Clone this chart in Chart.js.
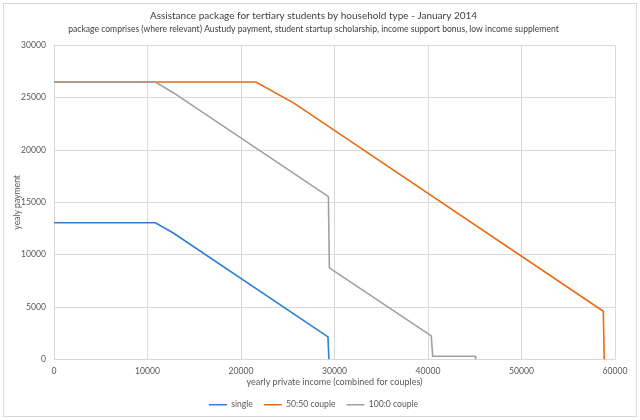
<!DOCTYPE html>
<html>
<head>
<meta charset="utf-8">
<script src="https://cdn.jsdelivr.net/npm/chart.js@4/dist/chart.umd.min.js"></script>
<style>
  html, body { margin: 0; padding: 0; background: #fff; }
  #wrap { position: absolute; left: 0; top: 0; width: 640px; height: 420px; }
  #frame { position: absolute; left: 3px; top: 3px; width: 632px; height: 412px; border: 1px solid #d9d9d9; pointer-events: none; }
</style>
</head>
<body>
<div id="wrap"><canvas id="c" width="640" height="420"></canvas></div>
<div id="frame"></div>
<script>
const titleText = "Assistance package for tertiary students by household type - January 2014";
const subtitleText = "package comprises (where relevant) Austudy payment, student startup scholarship, income support bonus, low income supplement";
const seriesNames = ["single", "50:50 couple", "100:0 couple"];

const singleIncome = [0, 10850, 12800, 29300, 29400];
const singlePay    = [13050, 13050, 12050, 2150, 0];

const fiftyIncome = [0, 21600, 25700, 58750, 58850];
const fiftyPay    = [26500, 26500, 24450, 4600, 0];

const hundredIncome = [0, 10850, 12800, 29350, 29450, 40350, 40500, 45050, 45100];
const hundredPay    = [26500, 26500, 25450, 15550, 8750, 2250, 300, 300, 0];

const xTicks = [0, 10000, 20000, 30000, 40000, 50000, 60000];
const yTicks = [0, 5000, 10000, 15000, 20000, 25000, 30000];

const colors = ["#2E7FD6", "#EE6A12", "#A0A0A0"];

function pts(xs, ys) { return xs.map((x, i) => ({ x: x, y: ys[i] })); }

const FONT = "Lato, 'Open Sans', sans-serif";

new Chart(document.getElementById("c"), {
  type: "scatter",
  data: {
    datasets: [
      { label: seriesNames[0], data: pts(singleIncome, singlePay), borderColor: colors[0], backgroundColor: colors[0], order: 2 },
      { label: seriesNames[1], data: pts(fiftyIncome, fiftyPay), borderColor: colors[1], backgroundColor: colors[1], order: 3 },
      { label: seriesNames[2], data: pts(hundredIncome, hundredPay), borderColor: colors[2], backgroundColor: colors[2], order: 1 }
    ].map(d => Object.assign(d, { showLine: true, pointRadius: 0, borderWidth: 1.6, tension: 0, fill: false }))
  },
  options: {
    responsive: false,
    animation: false,
    devicePixelRatio: 1,
    layout: { padding: { left: 12, right: 25, top: 0, bottom: 1 } },
    plugins: {
      title: { display: true, text: titleText, color: "#404040", font: { family: FONT, size: 10, weight: "normal" }, padding: { top: 10, bottom: 1 } },
      subtitle: { display: true, text: subtitleText, color: "#404040", font: { family: FONT, size: 8.6, weight: "normal" }, padding: { top: 1, bottom: 11 } },
      legend: {
        position: "bottom",
        labels: {
          color: "#595959", font: { family: FONT, size: 8.6 }, usePointStyle: true, pointStyle: "line", pointStyleWidth: 18, boxHeight: 9, padding: 11,
          sort: (a, b) => a.datasetIndex - b.datasetIndex
        }
      },
      tooltip: { enabled: false }
    },
    scales: {
      x: {
        type: "linear", min: 0, max: 60000,
        afterBuildTicks: s => { s.ticks = xTicks.map(v => ({ value: v })); },
        afterFit: s => { s.height = 30; },
        ticks: { color: "#595959", font: { family: FONT, size: 8.6 }, padding: 7, maxRotation: 0, callback: v => String(v) },
        grid: { color: "#d9d9d9", drawTicks: false, lineWidth: 1 },
        border: { color: "#d9d9d9" },
        title: { display: true, text: "yearly private income (combined for couples)", color: "#595959", font: { family: FONT, size: 9 }, padding: { top: 0, bottom: 2 } }
      },
      y: {
        type: "linear", min: 0, max: 30000,
        afterBuildTicks: s => { s.ticks = yTicks.map(v => ({ value: v })); },
        afterFit: s => { s.width = 42; },
        ticks: { color: "#595959", font: { family: FONT, size: 8.6 }, padding: 8, callback: v => String(v) },
        grid: { color: "#d9d9d9", drawTicks: false, lineWidth: 1 },
        border: { display: false },
        title: { display: true, text: "yealy payment", color: "#595959", font: { family: FONT, size: 8.6 }, padding: 0 }
      }
    }
  }
});
</script>
</body>
</html>
